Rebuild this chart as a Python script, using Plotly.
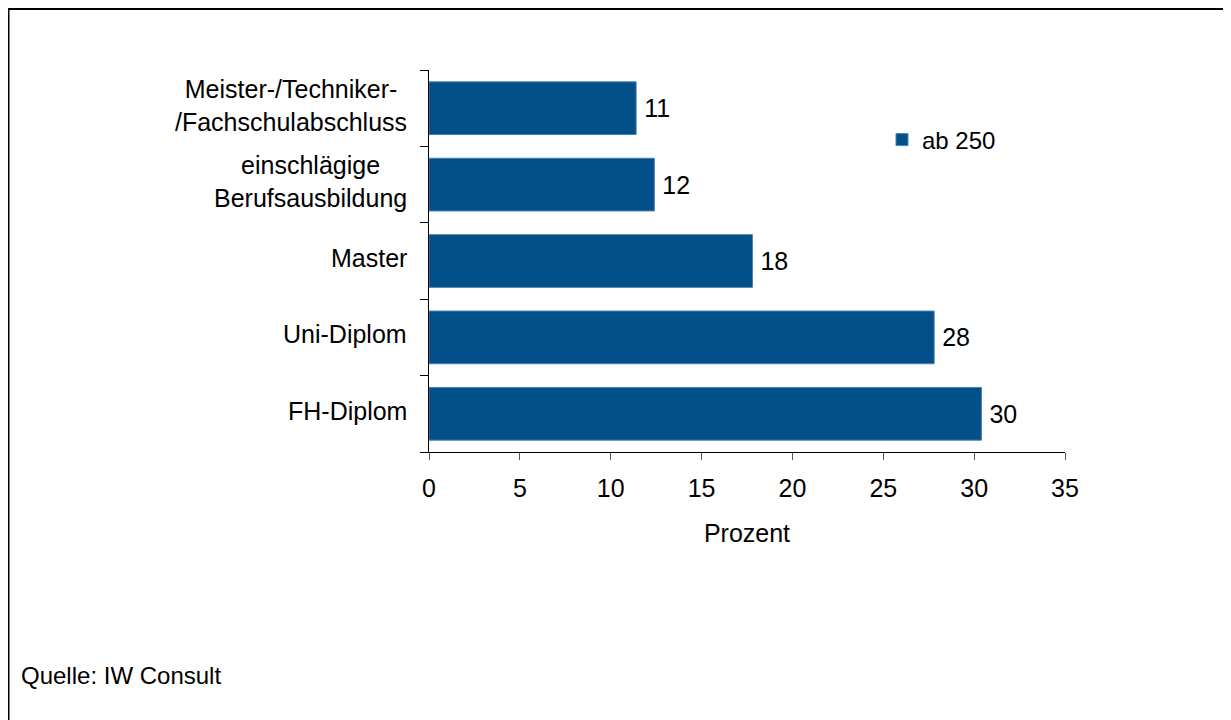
import plotly.graph_objects as go

categories = ["FH-Diplom", "Uni-Diplom", "Master",
              "einschlägige<br>Berufsausbildung",
              "Meister-/Techniker-<br>/Fachschulabschluss"]
values = [30.4, 27.8, 17.8, 12.4, 11.4]
series_name = "ab 250"
x_ticks = [0, 5, 10, 15, 20, 25, 30, 35]
x_title = "Prozent"
source = "Quelle: IW Consult"

OFF = 8  # page offset of the figure (body margin)
W, H = 1231 - OFF, 720 - OFF
L, T = 429 - OFF, 70 - OFF
PW, PH = 636, 382
R = W - L - PW
B = H - T - PH

def px_x(p):
    # page pixel -> paper x
    return (p - OFF - L) / PW

def px_y(p):
    # page pixel -> paper y
    return (H - B - (p - OFF)) / PH

FONT = "Liberation Sans, Arial, sans-serif"
BLUE = "#02508a"

fig = go.Figure()
fig.add_trace(go.Bar(
    y=categories, x=values, orientation="h", name=series_name,
    marker=dict(color=BLUE, line=dict(color="#4a82b0", width=1)),
    texttemplate="\u2009%{x:.0f}", textposition="outside",
    textfont=dict(size=25, color="#000000", family=FONT),
    cliponaxis=False, showlegend=True,
))

annotations = []
for c in categories:
    annotations.append(dict(
        xref="paper", yref="y", x=0, y=c, xshift=-20, yshift=3,
        xanchor="right", yanchor="middle", align="center",
        text=c, showarrow=False,
        font=dict(size=25, color="#000000", family=FONT),
    ))
annotations.append(dict(
    xref="paper", yref="paper", x=px_x(19), y=px_y(675),
    xanchor="left", yanchor="middle", text=source, showarrow=False,
    font=dict(size=24, color="#000000", family=FONT),
))

shapes = [
    dict(type="line", xref="paper", yref="paper",
         x0=px_x(8.5), x1=px_x(8.5), y0=px_y(725), y1=px_y(9),
         line=dict(color="#000000", width=2)),
    dict(type="line", xref="paper", yref="paper",
         x0=px_x(8), x1=px_x(1240), y0=px_y(9), y1=px_y(9),
         line=dict(color="#000000", width=2)),
]

fig.update_layout(
    width=W, height=H, autosize=False,
    margin=dict(l=L, r=R, t=T, b=B, autoexpand=False),
    paper_bgcolor="#ffffff", plot_bgcolor="#ffffff",
    font=dict(family=FONT, size=25, color="#000000"),
    bargap=0.31,
    showlegend=True,
    legend=dict(x=px_x(882), y=px_y(140), xanchor="left", yanchor="middle",
                font=dict(size=24, family=FONT, color="#000000"),
                bgcolor="rgba(0,0,0,0)", borderwidth=0),
    xaxis=dict(range=[0, 35], tickvals=x_ticks, ticktext=[str(t) for t in x_ticks],
               showgrid=False, zeroline=False, showline=True,
               linecolor="#000000", linewidth=1,
               ticks="outside", ticklen=7, tickcolor="#555555", tickwidth=1,
               ticklabelstandoff=7,
               tickfont=dict(size=25, family=FONT, color="#000000"),
               title=dict(text=x_title, standoff=23,
                          font=dict(size=25, family=FONT, color="#000000")),
               automargin=False),
    yaxis=dict(type="category", categoryorder="array", categoryarray=categories,
               range=[-0.5, 4.5], showticklabels=False,
               showgrid=False, zeroline=False, showline=True,
               linecolor="#000000", linewidth=1,
               ticks="outside", tickson="boundaries", ticklen=8,
               tickcolor="#000000", tickwidth=1, automargin=False),
    annotations=annotations,
    shapes=shapes,
)

fig.write_html("out.html")
